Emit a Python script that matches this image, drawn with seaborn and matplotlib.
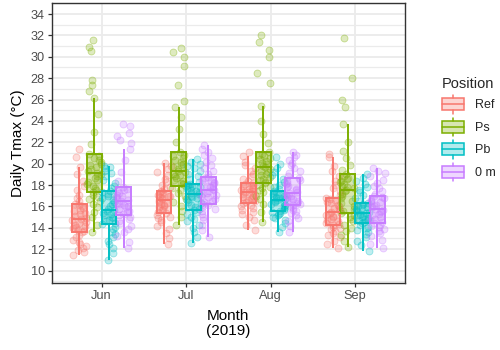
import numpy as np
import pandas as pd
import seaborn as sns
import matplotlib.pyplot as plt
from matplotlib.colors import to_rgb
from matplotlib.patches import Rectangle, Patch
from matplotlib.lines import Line2D
from matplotlib.legend_handler import HandlerBase
from matplotlib.ticker import MultipleLocator

# Daily Tmax (°C) per month and logger position
months = ['Jun', 'Jul', 'Aug', 'Sep']
positions = ['Ref', 'Ps', 'Pb', '0 m']
colors = ['#F8766D', '#7CAE00', '#00BFC4', '#C77CFF']

jun_ref = [11.43, 11.7, 11.9, 12.1, 12.3, 12.5, 12.7, 12.9, 13.1, 13.35, 13.61,
           13.7, 13.8, 13.95, 14.05, 14.2, 14.3, 14.45, 14.55, 14.7, 14.8,
           14.95, 15.1, 15.25, 15.4, 15.55, 15.7, 15.85, 16.0, 16.15, 16.27,
           16.5, 16.8, 17.1, 17.5, 17.9, 18.4, 19.0, 19.7, 20.6, 21.4]
jun_ps = [13.56, 14.3, 15.0, 15.5, 15.9, 16.2, 16.5, 16.7, 16.9, 17.1, 17.3,
          17.5, 17.7, 17.9, 18.1, 18.3, 18.5, 18.7, 18.85, 19.0, 19.17,
          19.35, 19.5, 19.7, 19.85, 20.0, 20.2, 20.35, 20.5, 20.7, 20.89,
          21.8, 23.0, 24.6, 26.1, 26.8, 27.4, 27.8, 30.5, 30.9, 31.6]
jun_pb = [10.96, 11.6, 12.1, 12.5, 12.8, 13.1, 13.4, 13.65, 13.9, 14.1, 14.33,
          14.45, 14.6, 14.75, 14.9, 15.05, 15.2, 15.3, 15.4, 15.55, 15.65,
          15.8, 16.0, 16.2, 16.4, 16.6, 16.8, 17.0, 17.15, 17.3, 17.45,
          17.7, 17.95, 18.2, 18.5, 18.8, 19.1, 19.35, 19.55, 19.7, 19.79]
jun_0m = [12.06, 12.7, 13.2, 13.6, 13.9, 14.2, 14.45, 14.65, 14.85, 15.0, 15.18,
          15.3, 15.45, 15.6, 15.75, 15.9, 16.0, 16.15, 16.25, 16.35, 16.49,
          16.6, 16.75, 16.85, 17.0, 17.1, 17.25, 17.4, 17.5, 17.65, 17.77,
          18.4, 19.2, 20.3, 21.36, 21.9, 22.2, 22.6, 22.9, 23.5, 23.7]

jul_ref = [12.45, 13.0, 13.5, 13.9, 14.2, 14.5, 14.7, 14.9, 15.05, 15.2, 15.39,
           15.5, 15.65, 15.8, 15.9, 16.0, 16.15, 16.25, 16.35, 16.45, 16.58,
           16.65, 16.75, 16.85, 16.95, 17.0, 17.1, 17.2, 17.3, 17.38, 17.45,
           17.6, 17.8, 18.0, 18.3, 18.6, 18.9, 19.2, 19.5, 19.8, 20.02]
jul_ps = [14.24, 15.0, 15.6, 16.0, 16.4, 16.7, 17.0, 17.25, 17.5, 17.7, 17.92,
          18.05, 18.2, 18.35, 18.5, 18.65, 18.8, 18.95, 19.05, 19.2, 19.33,
          19.5, 19.7, 19.85, 20.0, 20.2, 20.35, 20.5, 20.7, 20.85, 21.05,
          22.0, 23.2, 24.4, 25.32, 25.9, 27.35, 29.1, 30.0, 30.45, 30.8]
jul_pb = [12.53, 13.1, 13.6, 14.0, 14.3, 14.6, 14.85, 15.05, 15.25, 15.45, 15.65,
          15.8, 15.95, 16.1, 16.3, 16.45, 16.6, 16.75, 16.9, 17.0, 17.14,
          17.25, 17.35, 17.45, 17.55, 17.65, 17.75, 17.82, 17.9, 18.0, 18.08,
          18.3, 18.55, 18.8, 19.05, 19.3, 19.55, 19.8, 20.0, 20.2, 20.39]
jul_0m = [13.15, 13.8, 14.3, 14.7, 15.0, 15.3, 15.55, 15.75, 15.95, 16.1, 16.27,
          16.4, 16.55, 16.7, 16.85, 16.95, 17.05, 17.15, 17.28, 17.4, 17.52,
          17.65, 17.8, 17.9, 18.0, 18.15, 18.25, 18.35, 18.5, 18.62, 18.76,
          19.0, 19.3, 19.6, 19.9, 20.2, 20.5, 20.8, 21.1, 21.4, 21.73]

aug_ref = [13.77, 14.3, 14.7, 15.0, 15.3, 15.5, 15.7, 15.85, 16.0, 16.15, 16.33,
           16.42, 16.52, 16.62, 16.72, 16.82, 16.92, 17.0, 17.1, 17.2, 17.3,
           17.38, 17.46, 17.54, 17.62, 17.7, 17.8, 17.9, 18.0, 18.1, 18.2,
           18.4, 18.6, 18.8, 19.0, 19.3, 19.6, 19.9, 20.2, 20.7, 21.1]
aug_ps = [14.55, 15.5, 16.2, 16.7, 17.0, 17.3, 17.5, 17.7, 17.85, 18.0, 18.15,
          18.3, 18.45, 18.6, 18.75, 18.9, 19.05, 19.2, 19.35, 19.5, 19.64,
          19.8, 19.95, 20.1, 20.25, 20.4, 20.55, 20.7, 20.8, 20.92, 21.05,
          21.9, 22.8, 24.0, 25.35, 27.5, 28.5, 30.0, 30.6, 31.4, 32.0]
aug_pb = [13.61, 14.1, 14.45, 14.7, 14.9, 15.05, 15.2, 15.3, 15.4, 15.5, 15.6,
          15.7, 15.8, 15.9, 16.0, 16.1, 16.2, 16.3, 16.4, 16.5, 16.58,
          16.66, 16.74, 16.82, 16.9, 16.98, 17.06, 17.14, 17.22, 17.3, 17.4,
          17.6, 17.8, 18.0, 18.3, 18.6, 18.9, 19.2, 19.6, 20.0, 20.6]
aug_0m = [13.61, 14.2, 14.6, 14.9, 15.15, 15.35, 15.55, 15.7, 15.85, 16.0, 16.11,
          16.22, 16.34, 16.46, 16.58, 16.7, 16.8, 16.9, 17.0, 17.1, 17.21,
          17.35, 17.5, 17.65, 17.8, 17.95, 18.1, 18.2, 18.35, 18.48, 18.61,
          18.85, 19.1, 19.35, 19.6, 19.85, 20.1, 20.35, 20.6, 20.85, 21.11]

sep_ref = [12.06, 12.5, 12.8, 13.1, 13.3, 13.5, 13.7, 13.85, 13.97, 14.1, 14.24,
           14.36, 14.48, 14.6, 14.72, 14.85, 14.98, 15.1, 15.23, 15.36, 15.49,
           15.62, 15.75, 15.88, 16.0, 16.14, 16.28, 16.42, 16.56, 16.7, 16.83,
           17.1, 17.4, 17.7, 18.0, 18.4, 18.8, 19.3, 19.8, 20.6, 20.9]
sep_ps = [12.16, 12.8, 13.3, 13.7, 14.0, 14.3, 14.6, 14.85, 15.05, 15.2, 15.39,
          15.6, 15.8, 16.05, 16.3, 16.55, 16.8, 17.0, 17.2, 17.4, 17.58,
          17.7, 17.85, 17.95, 18.1, 18.25, 18.4, 18.55, 18.7, 18.85, 18.99,
          19.4, 19.9, 20.5, 21.2, 22.0, 23.67, 25.32, 26.0, 28.04, 31.8]
sep_pb = [11.86, 12.4, 12.8, 13.1, 13.4, 13.6, 13.8, 13.95, 14.1, 14.25, 14.4,
          14.5, 14.6, 14.7, 14.8, 14.9, 15.0, 15.1, 15.2, 15.3, 15.39,
          15.48, 15.57, 15.66, 15.75, 15.84, 15.93, 16.02, 16.12, 16.22, 16.33,
          16.55, 16.8, 17.05, 17.3, 17.55, 17.8, 18.1, 18.4, 18.7, 19.02]
sep_0m = [12.06, 12.5, 12.9, 13.2, 13.5, 13.7, 13.9, 14.05, 14.18, 14.3, 14.4,
          14.55, 14.7, 14.85, 15.0, 15.15, 15.3, 15.45, 15.58, 15.7, 15.8,
          15.92, 16.04, 16.16, 16.28, 16.4, 16.52, 16.64, 16.76, 16.86, 16.96,
          17.2, 17.45, 17.7, 17.95, 18.2, 18.5, 18.8, 19.1, 19.35, 19.55]

groups = {
    'Jun': [jun_ref, jun_ps, jun_pb, jun_0m],
    'Jul': [jul_ref, jul_ps, jul_pb, jul_0m],
    'Aug': [aug_ref, aug_ps, aug_pb, aug_0m],
    'Sep': [sep_ref, sep_ps, sep_pb, sep_0m],
}
rows = []
for m in months:
    for pos, vals in zip(positions, groups[m]):
        rows += [(m, pos, v) for v in vals]
df = pd.DataFrame(rows, columns=['Month', 'Position', 'Tmax'])

sns.set_theme(style='white')
plt.rcParams['font.family'] = ['Liberation Sans', 'DejaVu Sans']

fig = plt.figure(figsize=(5, 3.5), dpi=100)
ax = fig.add_axes([0.1034, 0.192, 0.7066, 0.8])

# jittered points (behind the boxes)
np.random.seed(7)
sns.stripplot(data=df, x='Month', y='Tmax', hue='Position', order=months,
              hue_order=positions, palette=colors, dodge=True, jitter=0.4,
              size=5, linewidth=0, legend=False, ax=ax, zorder=2)
for coll in ax.collections:
    off = coll.get_offsets().copy()
    base = np.round(off[:, 0])
    off[:, 0] = base + (off[:, 0] - base) * 0.875  # match box dodge of 0.7
    coll.set_offsets(off)
    rgb = coll.get_facecolor()[0][:3]
    coll.set_facecolor((*rgb, 0.25))
    coll.set_edgecolor((*rgb, 0.38))
    coll.set_linewidth(0.6)

# boxes, one hue at a time so lines take the hue colour
for pos, col in zip(positions, colors):
    n0, l0 = len(ax.patches), len(ax.lines)
    sns.boxplot(data=df[df.Position == pos], x='Month', y='Tmax', hue='Position',
                order=months, hue_order=positions, palette=colors, dodge=True,
                width=0.7, gap=0, saturation=1, showfliers=False,
                showcaps=False, linecolor=col, linewidth=1.4, legend=False,
                ax=ax)
    for p in ax.patches[n0:]:
        p.set_facecolor((*to_rgb(col), 0.3))
        p.set_edgecolor(col)
        p.set_zorder(3)
    for ln in ax.lines[l0:]:
        ln.set_color(col)
        ln.set_zorder(3.5)

ax.set_xlim(-0.59, 3.59)
ax.set_ylim(8.85, 35.05)
ax.yaxis.set_major_locator(MultipleLocator(2))
ax.yaxis.set_minor_locator(MultipleLocator(1))
ax.grid(which='major', color='#EBEBEB', lw=1.3)
ax.grid(which='minor', axis='y', color='#EBEBEB', lw=0.9)
ax.set_axisbelow(True)
for s in ax.spines.values():
    s.set_visible(True)
    s.set_color('#333333')
    s.set_linewidth(1.0)
ax.tick_params(which='major', bottom=True, left=True, length=3, width=0.9,
               color='#333333', labelcolor='#4D4D4D', labelsize=9.2, pad=2)
ax.tick_params(which='minor', length=0)
ax.set_ylabel('Daily Tmax (°C)', fontsize=11, color='black', labelpad=4)
ax.set_xlabel('Month\n(2019)', fontsize=11, color='black', labelpad=5,
              linespacing=1.1)


class BoxKey(HandlerBase):
    def create_artists(self, legend, orig_handle, xdescent, ydescent, width,
                       height, fontsize, trans):
        c = orig_handle.get_edgecolor()
        x0, y0 = -xdescent, -ydescent
        xm = x0 + width / 2
        box = Rectangle((x0, y0 + 0.17 * height), width, 0.66 * height,
                        facecolor=(*c[:3], 0.3), edgecolor=c, lw=1.1,
                        transform=trans)
        med = Line2D([x0, x0 + width], [y0 + height / 2] * 2, color=c, lw=1.1,
                     transform=trans)
        wlo = Line2D([xm, xm], [y0, y0 + 0.17 * height], color=c, lw=1.1,
                     transform=trans)
        whi = Line2D([xm, xm], [y0 + 0.83 * height, y0 + height], color=c,
                     lw=1.1, transform=trans)
        return [box, med, wlo, whi]


handles = [Patch(edgecolor=c, facecolor='none') for c in colors]
leg = fig.legend(handles, positions, loc='upper left',
                 bbox_to_anchor=(0.884, 0.78), frameon=False, title='Position',
                 handler_map={Patch: BoxKey()}, fontsize=9, title_fontsize=10.5,
                 handlelength=1.75, handleheight=1.9, labelspacing=0.32,
                 handletextpad=0.9, borderpad=0, borderaxespad=0,
                 alignment='left')

fig.savefig('out.png', dpi=100)
